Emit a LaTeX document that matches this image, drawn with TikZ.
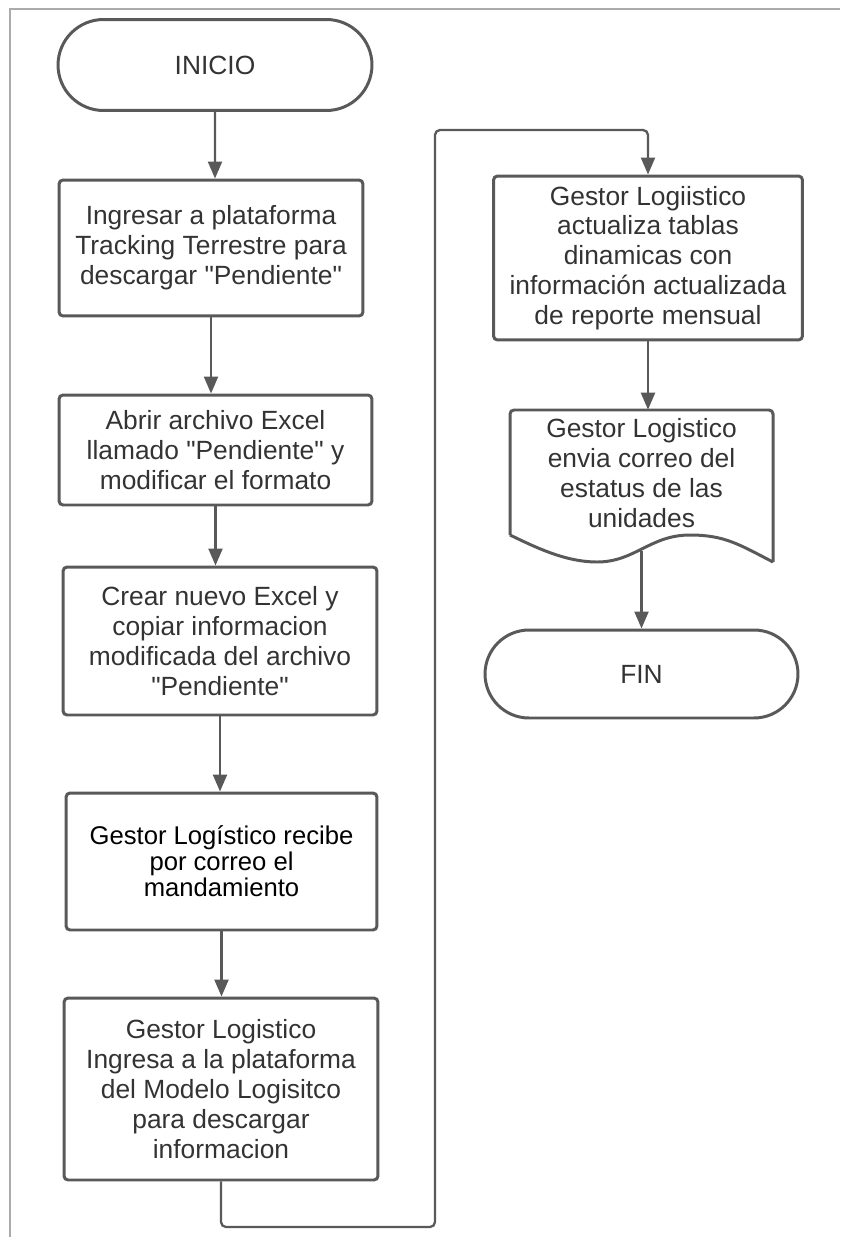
\documentclass[tikz,border=0pt]{standalone}
\usepackage{fontspec}
\setmainfont{Liberation Sans}[Ligatures=TeXOff]
\usetikzlibrary{arrows.meta,shapes.misc}
\definecolor{borde}{HTML}{595959}
\definecolor{texto}{HTML}{333333}
\definecolor{marco}{HTML}{ABABAB}
\begin{document}
\begin{tikzpicture}[x=0.02cm,y=-0.02cm,
  font=\fontsize{15}{17}\selectfont,
  caja/.style={draw=borde,line width=1.7pt,rounded corners=0.08cm,align=center,text=texto,inner sep=0pt},
  terminal/.style={draw=borde,line width=1.7pt,rounded rectangle,align=center,text=texto,inner sep=0pt},
  flecha/.style={draw=borde,line width=1.3pt,-{Triangle[length=0.34cm,width=0.28cm]}}]

\useasboundingbox (0,0) rectangle (840,1237);

\draw [marco,line width=1.1pt] (10,1237) -- (10,9) -- (840,9);

\node [terminal,minimum width=6.28cm,minimum height=1.82cm] (inicio) at (215,65) {INICIO};

\node [caja,minimum width=6.08cm,minimum height=2.72cm] (ingresar) at (211,248) {Ingresar a plataforma\\Tracking Terrestre para\\descargar "Pendiente"};

\node [caja,minimum width=6.26cm,minimum height=2.2cm] (abrir) at (215.5,450) {Abrir archivo Excel\\llamado "Pendiente" y\\modificar el formato};

\node [caja,minimum width=6.28cm,minimum height=2.96cm] (crear) at (220,641) {Crear nuevo Excel y\\copiar informacion\\modificada del archivo\\"Pendiente"};

\node [caja,minimum width=6.22cm,minimum height=2.74cm,text=black,font=\fontsize{14.6}{14.8}\selectfont] (recibe) at (221.5,861.5) {Gestor Logístico recibe\\por correo el\\mandamiento};

\node [caja,minimum width=6.28cm,minimum height=3.64cm] (ingresa) at (221,1089) {Gestor Logistico\\Ingresa a la plataforma\\del Modelo Logisitco\\para descargar\\informacion};

\node [caja,minimum width=6.18cm,minimum height=3.28cm] (actualiza) at (648,258) {Gestor Logiistico\\actualiza tablas\\dinamicas con\\información actualizada\\de reporte mensual};

\node [align=center,text=texto,inner sep=0pt,minimum width=5.26cm,minimum height=2.52cm] (envia) at (641.5,473) {Gestor Logistico\\envia correo del\\estatus de las\\unidades};
\draw [borde,line width=1.7pt,rounded corners=0.08cm] (510,535) -- (510,410) -- (773,410) -- (773,562);
\draw [borde,line width=1.7pt] (773,562) .. controls (740,545) and (725,535) .. (690,535) .. controls (650,535) and (635,562) .. (597,562) .. controls (565,562) and (535,547) .. (510,535);
\coordinate (ola) at (641.5,551);

\node [terminal,minimum width=6.26cm,minimum height=1.76cm] (fin) at (641.5,674) {FIN};

\draw [flecha] (inicio) -- (inicio |- ingresar.north);
\draw [flecha] (ingresar) -- (ingresar |- abrir.north);
\draw [flecha] (abrir) -- (abrir |- crear.north);
\draw [flecha] (crear) -- (crear |- recibe.north);
\draw [flecha] (recibe) -- (recibe |- ingresa.north);

\coordinate (esq1) at (435,1227);
\coordinate (esq2) at (435,130);
\draw [flecha,rounded corners=0.1cm] (ingresa.south) |- (esq1) -- (esq2) -| (actualiza.north);

\draw [flecha] (actualiza) -- (actualiza |- envia.north);
\draw [flecha] (ola) -- (ola |- fin.north);

\end{tikzpicture}
\end{document}
